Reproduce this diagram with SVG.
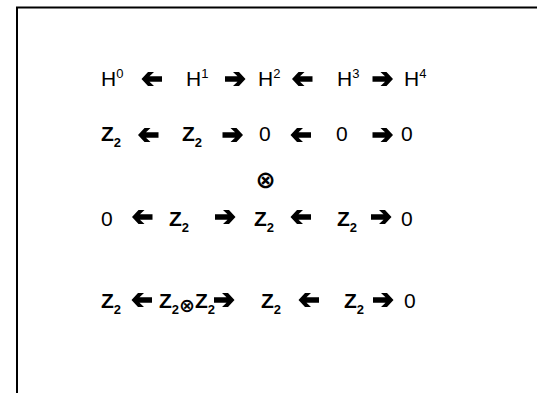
<svg xmlns="http://www.w3.org/2000/svg" width="537" height="393" viewBox="0 0 537 393">
<style>
.t{font-family:"Liberation Sans",Arial,sans-serif;font-size:21px;fill:#000}
.b{font-weight:bold}
.sup{font-size:13px}
.sub{font-size:13px;font-weight:bold}
.ot{font-family:"DejaVu Sans",sans-serif;font-weight:bold;font-size:24px;text-anchor:middle}
</style>
<defs>
<path id="la" d="M-10.5,0 L-4,-7 L2,-7 L-2.5,-2.8 L10,-2.8 L10,2.8 L-2.5,2.8 L2,7 L-4,7 Z" fill="#000"/>
</defs>
<rect width="537" height="393" fill="#fff"/>
<path d="M17,393 V7.5 H537" fill="none" stroke="#000" stroke-width="2"/>
<g id="row1">
<g id="h0"><text class="t" x="101" y="85.5">H<tspan class="sup" dy="-7.5">0</tspan></text></g>
<g id="h1"><text class="t" x="186" y="85.5">H<tspan class="sup" dy="-7.5">1</tspan></text></g>
<g id="h2"><text class="t" x="258" y="85.5">H<tspan class="sup" dy="-7.5">2</tspan></text></g>
<g id="h3"><text class="t" x="337" y="85.5">H<tspan class="sup" dy="-7.5">3</tspan></text></g>
<g id="h4"><text class="t" x="404" y="85.5">H<tspan class="sup" dy="-7.5">4</tspan></text></g>
</g>
<g id="row2">
<g id="r2a"><text class="t b" x="101" y="140.5">Z<tspan class="sub" dy="6">2</tspan></text></g>
<g id="r2b"><text class="t b" x="182" y="140.5">Z<tspan class="sub" dy="6">2</tspan></text></g>
<g id="r2c"><text class="t" x="259" y="140.5">0</text></g>
<g id="r2d"><text class="t" x="336" y="140.5">0</text></g>
<g id="r2e"><text class="t" x="401" y="140.5">0</text></g>
</g>
<g id="tensor"><text class="ot" x="265.5" y="188">⊗</text></g>
<g id="row4">
<g id="r4a"><text class="t" x="101" y="225.5">0</text></g>
<g id="r4b"><text class="t b" x="169" y="225.5">Z<tspan class="sub" dy="6">2</tspan></text></g>
<g id="r4c"><text class="t b" x="254" y="225.5">Z<tspan class="sub" dy="6">2</tspan></text></g>
<g id="r4d"><text class="t b" x="337" y="225.5">Z<tspan class="sub" dy="6">2</tspan></text></g>
<g id="r4e"><text class="t" x="401" y="225.5">0</text></g>
</g>
<g id="row5">
<g id="r5a"><text class="t b" x="101" y="307.5">Z<tspan class="sub" dy="6">2</tspan></text></g>
<g id="r5b"><text class="t b" x="159" y="307.5">Z<tspan class="sub" dy="6">2</tspan><tspan style="font-family:'DejaVu Sans',sans-serif;font-size:19px" dy="-2">⊗</tspan><tspan dy="-4">Z</tspan><tspan class="sub" dy="6">2</tspan></text></g>
<g id="r5c"><text class="t b" x="261" y="307.5">Z<tspan class="sub" dy="6">2</tspan></text></g>
<g id="r5d"><text class="t b" x="344" y="307.5">Z<tspan class="sub" dy="6">2</tspan></text></g>
<g id="r5e"><text class="t" x="404" y="307.5">0</text></g>
</g>
<g id="connectors">
<use href="#la" transform="translate(152,79)"/>
<use href="#la" transform="translate(235,79) scale(-1,1)"/>
<use href="#la" transform="translate(302.5,79)"/>
<use href="#la" transform="translate(382.5,79) scale(-1,1)"/>
<use href="#la" transform="translate(148.5,135)"/>
<use href="#la" transform="translate(232.5,135) scale(-1,1)"/>
<use href="#la" transform="translate(301,135)"/>
<use href="#la" transform="translate(382.5,135) scale(-1,1)"/>
<use href="#la" transform="translate(142.5,217)"/>
<use href="#la" transform="translate(225,217) scale(-1,1)"/>
<use href="#la" transform="translate(301,217)"/>
<use href="#la" transform="translate(381,217) scale(-1,1)"/>
<use href="#la" transform="translate(142,300)"/>
<use href="#la" transform="translate(224,300) scale(-1,1)"/>
<use href="#la" transform="translate(309,300)"/>
<use href="#la" transform="translate(383,300) scale(-1,1)"/>
</g>
</svg>
